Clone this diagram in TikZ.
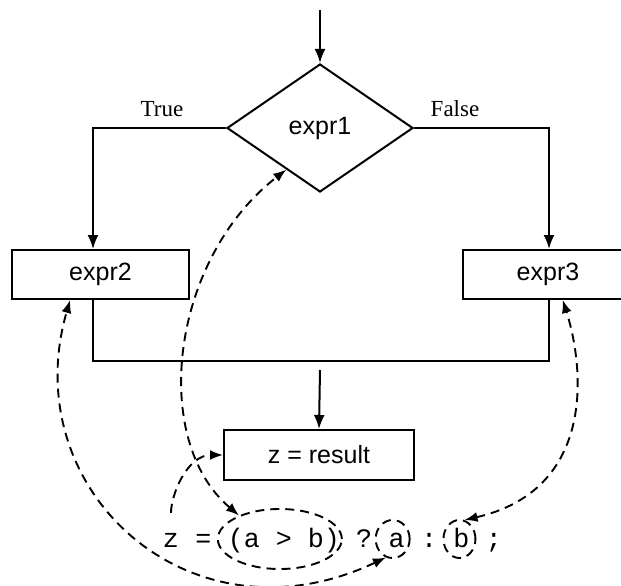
\documentclass[tikz,border=0pt]{standalone}
\usepackage{fontspec}
\setmainfont{Liberation Serif}
\setsansfont{Liberation Sans}
\setmonofont{Liberation Mono}
\usetikzlibrary{positioning,arrows.meta,shapes.geometric,calc}
\tikzset{%
  flow/.style     = { ->, >={Latex[length=14pt,width=11pt]}, line width = 2pt },
  link/.style     = { <->, >={Latex[length=13pt,width=10pt]}, line width = 1.9pt,
                      dash pattern = on 9pt off 6pt },
  tbox/.style     = { draw, line width = 2pt, font = \sffamily\fontsize{25}{29}\selectfont,
                      minimum width = #1, minimum height = 49pt, inner sep = 0pt },
  decision/.style = { diamond, draw, line width = 2pt, font = \sffamily\fontsize{25}{29}\selectfont,
                      minimum width = 186pt, minimum height = 128pt, inner sep = 0pt },
  lbl/.style      = { font = \rmfamily\fontsize{23}{27}\selectfont },
  code/.style     = { font = \ttfamily\fontsize{26.67}{30}\selectfont, inner sep = 0pt,
                      text height = 16pt, text depth = 0pt },
  ring/.style 2 args = { ellipse, draw, line width = 1.9pt, dash pattern = on 9pt off 6pt,
                      inner sep = 0pt, minimum width = #1, minimum height = #2 }
}

\begin{document}
\begin{tikzpicture}[x=1pt, y=1pt]
\useasboundingbox (0,0) rectangle (621,-586);

% flow chart
\node(expr1)  [decision]       at (320,-128)   {expr1};
\node(expr2)  [tbox=177pt]     at (100.5,-274.5) {expr2};
\node(expr3)  [tbox=170pt]     at (548,-274.5) {expr3};
\node(result) [tbox=190pt, minimum height = 50pt] at (319,-455) {z = result};

\node(truelbl)  [lbl] at (162,-109) {True};
\node(falselbl) [lbl] at (455,-109) {False};

\coordinate (entry) at (320,-10);
\coordinate (tl)    at (93,-128);
\coordinate (tr)    at (549,-128);
\coordinate (mr)    at (549,-361);
\coordinate (join)  at (320,-370);

\draw[flow] (entry) -- (expr1.north);
\draw[flow] (expr1.west) -- (tl) -- (tl |- expr2.north);
\draw[flow] (expr1.east) -- (tr) -- (tr |- expr3.north);
\draw[line width = 2pt] (tl |- expr2.south) |- (mr) -- (tr |- expr3.south);
\draw[flow] (join) -- (result.north);

% the statement
\node(zvar)     [code, anchor = base]       at (171,-547) {z};
\node(eqs)      [code, base right = 16pt of zvar]     {=};
\node(condexpr) [code, base right = 16pt of eqs]      {(a > b)};
\node(qmark)    [code, base right = 16pt of condexpr] {?};
\node(avar)     [code, base right = 16pt of qmark]    {a};
\node(colon)    [code, base right = 16pt of avar]     {:};
\node(bvar)     [code, base right = 16pt of colon]    {b};
\node(semi)     [code, base right = 16pt of bvar]     {;};

\node(condring) [ring={124pt}{60pt}] at ([xshift=-4pt]condexpr.center) {};
\node(aring)    [ring={34pt}{38pt}]  at ([xshift=-4pt]avar.center) {};
\node(bring)    [ring={32pt}{38pt}]  at ([xshift=-2pt]bvar.center) {};

\draw[link] (condring.150) .. controls (150,-440) and (170,-260) .. (expr1.231);
\draw[link] (aring.250) .. controls (190,-650) and (15,-490) .. (expr2.-140);
\draw[link] (bring.75) .. controls (595,-490) and (585,-370) .. (expr3.-60);
\draw[link, ->, shorten <= 18pt] (zvar.north) to[out=90, in=180] (result.west);
\end{tikzpicture}
\end{document}
